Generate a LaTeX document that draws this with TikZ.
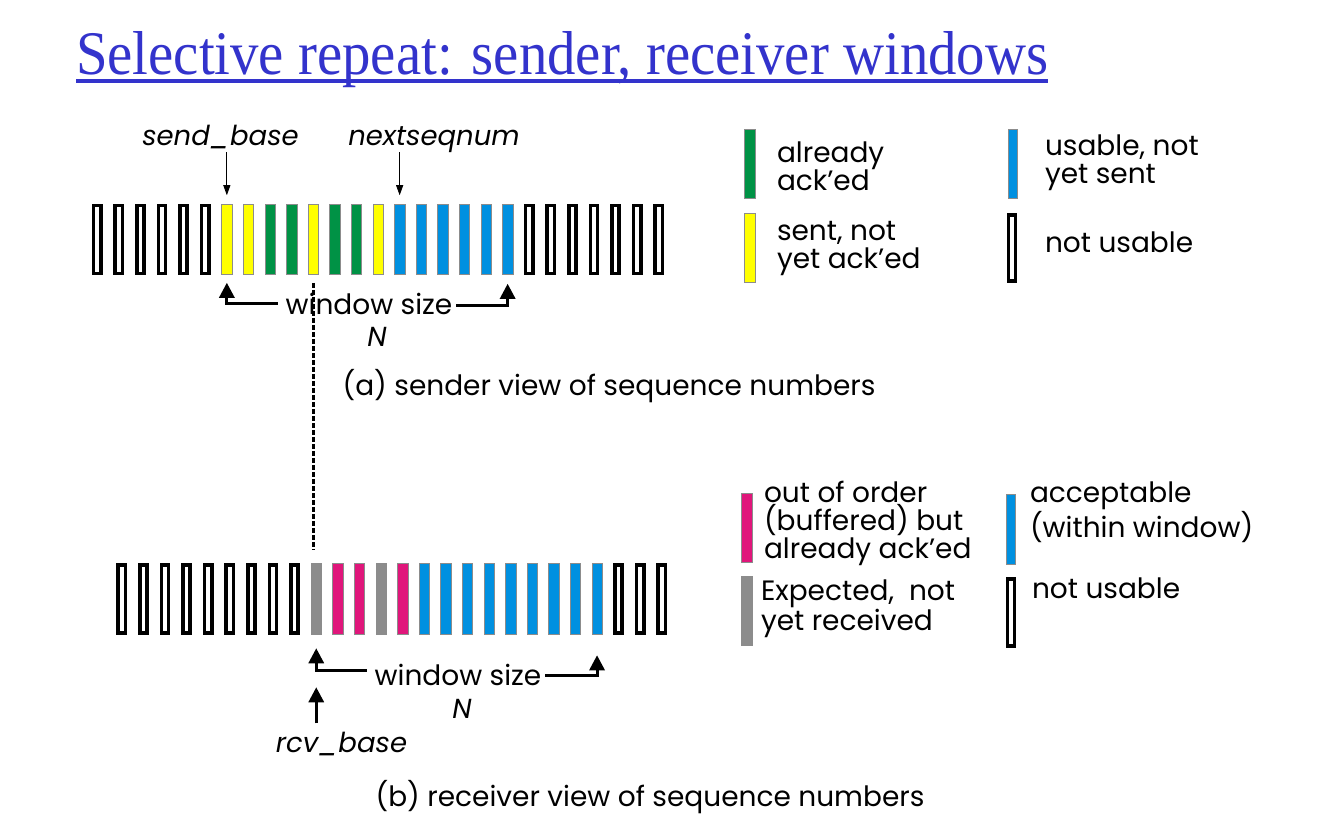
\documentclass[tikz,border=0pt]{standalone}
\usepackage{fontspec}
\usepackage{graphicx}
\setmainfont{Poppins}
\newfontfamily\titlefont{Liberation Serif}
\usetikzlibrary{arrows.meta}
\definecolor{sgreen}{RGB}{0,146,69}
\definecolor{syellow}{RGB}{255,255,0}
\definecolor{sblue}{RGB}{0,144,224}
\definecolor{smagenta}{RGB}{224,22,123}
\definecolor{sgrey}{RGB}{140,140,140}
\definecolor{titleblue}{RGB}{51,51,204}
\begin{document}
\begin{tikzpicture}[x=1pt,y=-1pt,
  every node/.style={inner sep=0pt, outer sep=0pt},
  bare/.style={draw=black, line width=3.6pt, fill=white, minimum width=7.2pt, minimum height=68pt},
  colbar/.style={draw=black!45, line width=0.6pt, minimum width=10.5pt, minimum height=70.5pt},
  bary/.style={colbar, fill=syellow},
  barg/.style={colbar, fill=sgreen},
  barb/.style={colbar, fill=sblue},
  barm/.style={colbar, fill=smagenta},
  barq/.style={colbar, fill=sgrey},
  txt/.style={font=\fontsize{28}{28}\selectfont},
  lbl/.style={txt, anchor=base west, align=left},
  itl/.style={font=\fontsize{27.5}{28}\selectfont\itshape, anchor=base},
  winarrow/.style={line width=3pt, -{Triangle[width=15pt,length=15pt]}},
  ptr/.style={line width=0.8pt, -{Triangle[width=7pt,length=10pt]}},
  dline/.style={line width=3.4pt, dash pattern=on 5pt off 2pt}
]
\fill[white] (0,0) rectangle (1332,821);
\useasboundingbox (0,0) rectangle (1332,821);

% title
\node[anchor=base west, text=titleblue] (title) at (76,75)
  {\titlefont\fontsize{62}{70}\selectfont\scalebox{0.916}[1]{Selective repeat: sender, receiver windows}};
\draw[titleblue, line width=4pt] ([yshift=-6.5pt]title.base west) -- ([yshift=-6.5pt]title.base east);

% sender bars
\foreach \t [count=\i from 0] in {e,e,e,e,e,e,y,y,g,g,y,g,g,y,b,b,b,b,b,b,e,e,e,e,e,e,e}
  \node[bar\t] (s\i) at ({97.25+21.6*\i},239.5) {};

% receiver bars
\foreach \t [count=\i from 0] in {e,e,e,e,e,e,e,e,e,q,m,m,q,m,b,b,b,b,b,b,b,b,b,e,e,e}
  \node[bar\t] (r\i) at ({121.85+21.6*\i},599) {};

% sender labels
\node[itl] (sendbase) at (220.5,146) {send\_base};
\node[itl] (nextseq) at (434,146) {nextseqnum};
\draw[ptr] ([yshift=52pt]s6.north) -- ([yshift=9pt]s6.north);
\draw[ptr] ([yshift=52pt]s14.north) -- ([yshift=9pt]s14.north);

\node[txt, anchor=base] (sw) at (369,314) {window size};
\node[itl] (sn) at (377,346) {N};
\draw[winarrow, shorten >=8pt] ([xshift=-8pt,yshift=0pt]sw.west) -| (s6.south);
\draw[winarrow, shorten >=9pt] ([xshift=4pt,yshift=-2pt]sw.east) -| (s19.south);

\node[txt, anchor=base] (capa) at (609,395) {(a) sender view of sequence numbers};

% receiver labels
\node[txt, anchor=base] (rw) at (458,685) {window size};
\node[itl] (rn) at (462,718) {N};
\draw[winarrow, shorten >=14pt] ([xshift=-8pt,yshift=4pt]rw.west) -| (r9.south);
\draw[winarrow, shorten >=21pt] ([xshift=4pt,yshift=-1pt]rw.east) -| (r22.south);
\node[itl] (rcvbase) at (341.5,752) {rcv\_base};
\draw[winarrow] ([yshift=-89pt]r9.south) -- ([yshift=-53pt]r9.south);

\node[txt, anchor=base] (capb) at (650,806) {(b) receiver view of sequence numbers};

% dashed alignment line
\coordinate (dbot) at (s10.south |- r9.north);
\draw[dline] ([yshift=-8pt]s10.south) -- ([yshift=14pt]dbot);

% sender legend
\node[barg, minimum height=69pt] (lg1) at (750,163.5) {};
\node[lbl] (lt1) at (777,190) {already\\ack’ed};
\node[bary, minimum height=69pt] (lg2) at (750,247.5) {};
\node[lbl] (lt2) at (777,268) {sent, not\\yet ack’ed};
\node[barb, minimum height=69pt, minimum width=9pt] (lg3) at (1012.5,163.5) {};
\node[lbl] (lt3) at (1045,183) {usable, not\\yet sent};
\node[bare, minimum height=66.5pt] (lg4) at (1012,248) {};
\node[lbl] (lt4) at (1045,252) {not usable};

% receiver legend
\node[barm, minimum height=69pt] (lg5) at (747,527.5) {};
\node[lbl] (lt5) at (764,558) {out of order\\(buffered) but\\already ack’ed};
\node[barq, minimum height=69pt] (lg6) at (747,610.5) {};
\node[lbl] (lt6) at (761,630) {Expected,\ \ not\\yet received};
\node[barb, minimum height=70pt, minimum width=9pt] (lg7) at (1011,529) {};
\node[lbl] (lt7) at (1030,537) {acceptable\\(within window)};
\node[bare, minimum height=67.5pt] (lg8) at (1011,612.5) {};
\node[lbl] (lt8) at (1032,598) {not usable};
\end{tikzpicture}
\end{document}
